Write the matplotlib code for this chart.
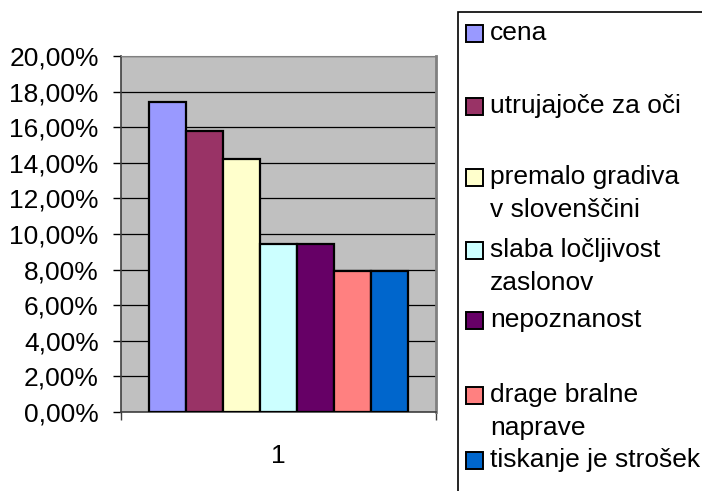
import matplotlib.pyplot as plt
from matplotlib.patches import Rectangle
from matplotlib.ticker import FuncFormatter, MultipleLocator

# Podatki

labels = ["cena", "utrujajoče za oči", "premalo gradiva\nv slovenščini",
          "slaba ločljivost\nzaslonov", "nepoznanost", "drage bralne\nnaprave",
          "tiskanje je strošek"]
values = [17.4, 15.8, 14.2, 9.45, 9.45, 7.9, 7.9]
colors = ["#9999FF", "#993366", "#FFFFCC", "#CCFFFF", "#660066", "#FF8080",
          "#0066CC"]
category = "1"

plt.rcParams['font.family'] = ['Liberation Sans', 'DejaVu Sans']
FS = 19

W, H = 702, 491
fig = plt.figure(figsize=(W / 100, H / 100), dpi=100)


def fx(px):
    return px / W


def fy(py):
    return 1 - py / H


ax = fig.add_axes([fx(121), fy(412), fx(436) - fx(121), fy(56) - fy(412)])
ax.set_facecolor("#C0C0C0")

bar_w = 0.1178
n = len(values)
for i, (lab, v, c) in enumerate(zip(labels, values, colors)):
    x = (i - (n - 1) / 2) * bar_w
    ax.bar(x, v, width=bar_w, color=c, edgecolor="black", linewidth=1.6,
           zorder=3)

ax.set_xlim(-0.5, 0.5)
ax.set_ylim(0, 20)
ax.yaxis.set_major_locator(MultipleLocator(2))
ax.yaxis.set_major_formatter(
    FuncFormatter(lambda v, p: f"{v:.2f}%".replace(".", ",")))
ax.grid(axis="y", color="black", linewidth=0.9, zorder=1)
ax.set_axisbelow(True)

ax.set_xticks([0], [category])
ax.set_xticks([-0.5, 0.5], minor=True)
ax.tick_params(axis="x", which="major", length=0, pad=23, labelsize=FS)
ax.tick_params(axis="x", which="minor", length=6, width=1, color="#404040",
               direction="out")
ax.tick_params(axis="y", length=6, width=1, pad=10, labelsize=FS,
               direction="out")

ax.spines["left"].set_color("#404040")
ax.spines["left"].set_linewidth(1.2)
ax.spines["bottom"].set_color("#404040")
ax.spines["bottom"].set_linewidth(1.2)
ax.spines["top"].set_color("#808080")
ax.spines["right"].set_color("#808080")
ax.spines["right"].set_linewidth(2)

# Legenda (ročno, kot v Excelu)
fig.patches.append(Rectangle((fx(458), fy(H + 10)), fx(W + 10) - fx(458),
                             fy(12) - fy(H + 10), transform=fig.transFigure,
                             facecolor="white", edgecolor="black",
                             linewidth=1.2))
leg_y = [33, 106, 177, 250, 320, 395, 460]
for lab, c, y in zip(labels, colors, leg_y):
    fig.patches.append(Rectangle((fx(466), fy(y + 8.5)), fx(17), 17 / H,
                                 transform=fig.transFigure, facecolor=c,
                                 edgecolor="black", linewidth=1.4))
    for k, line in enumerate(lab.split("\n")):
        fig.text(fx(490), fy(y + k * 33), line, fontsize=FS, va="center",
                 ha="left")

fig.savefig("out.png", dpi=100)
